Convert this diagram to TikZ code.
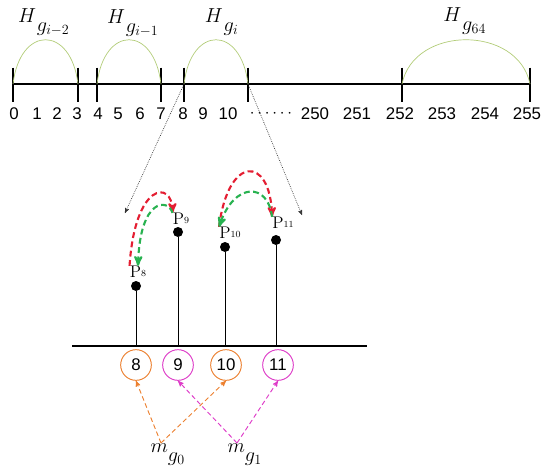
\documentclass[tikz,border=0pt]{standalone}
\usepackage{fontspec}
\setsansfont{Liberation Sans}
\usetikzlibrary{arrows,positioning}
\definecolor{spangreen}{RGB}{178,204,120}
\definecolor{hopred}{RGB}{228,30,50}
\definecolor{hopgreen}{RGB}{40,178,80}
\definecolor{slotorange}{RGB}{236,128,48}
\definecolor{slotpink}{RGB}{222,60,200}
\newcommand{\lowsub}[1]{\lower5pt\hbox{$\textstyle #1$}}
\newcommand{\pg}[1]{P\raisebox{1.5pt}{\footnotesize #1}}

\begin{document}
\begin{tikzpicture}[x=0.03cm,y=-0.03cm,>=stealth',semithick]
  \tikzstyle{notch}=[line width=1.6pt]
  \tikzstyle{span}=[draw=spangreen,semithick]
  \tikzstyle{num}=[font=\sffamily\Large,inner sep=0pt]
  \tikzstyle{hlabel}=[font=\LARGE,inner sep=0pt]
  \tikzstyle{pin}=[circle,fill=black,inner sep=0pt,minimum size=0.3cm]
  \tikzstyle{plabel}=[font=\Large,inner sep=0pt]
  \tikzstyle{slot}=[circle,draw,thick,fill=white,minimum size=0.92cm,font=\sffamily\Large,inner sep=0pt]
  \tikzstyle{hop}=[->,line width=1.8pt,dash pattern=on 5pt off 3pt]
  \tikzstyle{zoomline}=[->,densely dotted,semithick,black!80]
  \tikzstyle{map}=[->,thick,dash pattern=on 4pt off 2.5pt]
  \useasboundingbox (0,0) rectangle (542,472);

  % hash index line
  \draw[line width=1.8pt] (12,84) -- (531,84);
  \coordinate (n0)   at (13,84);
  \coordinate (n3)   at (78,84);
  \coordinate (n4)   at (97,84);
  \coordinate (n7)   at (161,84);
  \coordinate (n8)   at (184,84);
  \coordinate (n10)  at (248,84);
  \coordinate (n252) at (402,84);
  \coordinate (n255) at (530,84);
  \foreach \c in {n0,n3,n4,n7,n8,n10,n252,n255}
    \draw[notch] ([yshift=14]\c) -- ([yshift=-15]\c);

  \draw[span] (n0)   .. controls (20,25) and (71,25) .. (n3);
  \draw[span] (n4)   .. controls (104,25) and (154,25) .. (n7);
  \draw[span] (n8)   .. controls (191,25) and (241,25) .. (n10);
  \draw[span] (n252) .. controls (414,25) and (518,25) .. (n255);

  \node[hlabel] (h1) at (44,22)  {$H_{\,\lowsub{g_{i-2}}}$};
  \node[hlabel] (h2) at (133,23) {$H_{\,\lowsub{g_{i-1}}}$};
  \node[hlabel] (h3) at (222,22) {$H_{\,\lowsub{g_{i}}}$};
  \node[hlabel] (h4) at (465,21) {$H_{\,\lowsub{g_{64}}}$};

  \node[num] (d0)   at (14,114)  {0};
  \node[num] (d1)   at (37,114)  {1};
  \node[num] (d2)   at (57,114)  {2};
  \node[num] (d3)   at (77,114)  {3};
  \node[num] (d4)   at (98,114)  {4};
  \node[num] (d5)   at (118,114) {5};
  \node[num] (d6)   at (140,114) {6};
  \node[num] (d7)   at (161,114) {7};
  \node[num] (d8)   at (183,114) {8};
  \node[num] (d9)   at (203,114) {9};
  \node[num] (d10)  at (228,114) {10};
  \node[num] (dots) at (271,114) {$\cdots\cdots$};
  \node[num] (d250) at (315,114) {250};
  \node[num] (d251) at (357,114) {251};
  \node[num] (d252) at (400,114) {252};
  \node[num] (d253) at (442,114) {253};
  \node[num] (d254) at (485,114) {254};
  \node[num] (d255) at (527,114) {255};

  % zoom into bucket g_i
  \coordinate (z8)  at (125,213);
  \coordinate (z10) at (302,215);
  \draw[zoomline] (n8)  -- (z8);
  \draw[zoomline] (n10) -- (z10);

  % pages
  \draw[line width=1.8pt] (72,346) -- (367,346);
  \node[slot,draw=slotorange] (c8)  at (136,365) {8};
  \node[slot,draw=slotpink]   (c9)  at (178,365) {9};
  \node[slot,draw=slotorange] (c10) at (226,365) {10};
  \node[slot,draw=slotpink]   (c11) at (278,365) {11};

  \node[pin] (p8)  at (136,286) {};
  \node[pin] (p9)  at (178,232) {};
  \node[pin] (p10) at (225,247) {};
  \node[pin] (p11) at (276,240) {};
  \draw (p8)  -- (p8 |- 346,346);
  \draw (p9)  -- (p9 |- 346,346);
  \draw (p10) -- (p10 |- 346,346);
  \draw (p11) -- (p11 |- 346,346);

  \node[plabel] (lp8)  at (138,272) {\pg{8}};
  \node[plabel] (lp9)  at (181,219) {\pg{9}};
  \node[plabel] (lp10) at (230,233) {\pg{10}};
  \node[plabel] (lp11) at (283,223) {\pg{11}};

  \draw[hop,hopred]   (lp8.north west) .. controls (135,182) and (172,180) .. (lp9.north west);
  \draw[hop,hopgreen] (lp9.north west) .. controls (168,198) and (140,198) .. (lp8.north);
  \draw[hop,hopred]   (lp10.north west) .. controls (228,155) and (270,155) .. (lp11.north west);
  \draw[hop,hopgreen] (lp11.north west) .. controls (268,182) and (234,182) .. (lp10.north west);

  % meta groups
  \node[font=\LARGE] (mg0) at (168,455) {$m_{\lowsub{g_0}}$};
  \node[font=\LARGE] (mg1) at (245,455) {$m_{\lowsub{g_1}}$};
  \coordinate (s0) at (161,443);
  \coordinate (s1) at (237,443);
  \draw[map,slotorange] (s0) -- (c8.south);
  \draw[map,slotorange] (s0) -- (c10.south);
  \draw[map,slotpink]   (s1) -- (c9.south);
  \draw[map,slotpink]   (s1) -- (c11.south);
\end{tikzpicture}
\end{document}
